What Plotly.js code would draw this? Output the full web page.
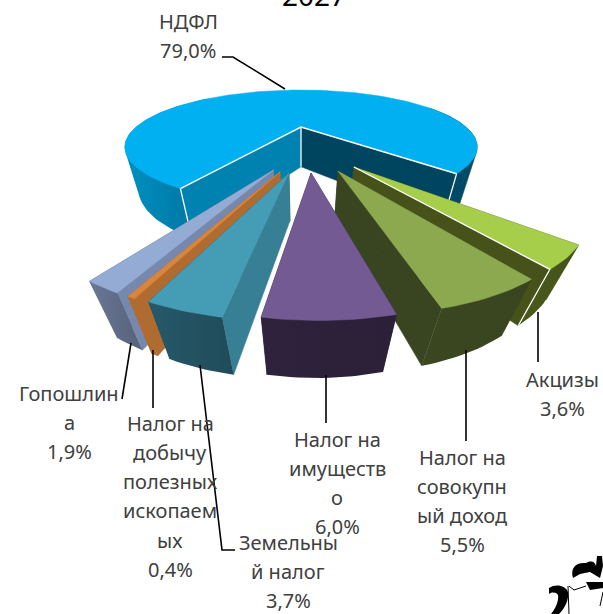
<!DOCTYPE html>
<html><head><meta charset="utf-8">
<script src="https://cdn.plot.ly/plotly-3.0.1.min.js"></script>
<style>html,body{margin:0;padding:0;background:#fff;overflow:hidden}</style>
</head><body><div id="chart" style="width:603px;height:614px"></div>
<script>
// --- data ---
const categories = ['НДФЛ','Акцизы','Налог на совокупный доход','Налог на имущество','Земельный налог','Налог на добычу полезных ископаемых','Гопошлина'];
const values = [79.0,3.6,5.5,6.0,3.7,0.4,1.9];
const labelLines = [['НДФЛ'],['Акцизы'],['Налог на','совокупн','ый доход'],['Налог на','имуществ','о'],['Земельны','й налог'],['Налог на','добычу','полезных','ископаем','ых'],['Гопошлин','а']];
const labelX = [188,562,462,337,288,170,69];
const labelY = [21,379,457,439,542,423,393];
const leaders = [[[222,57],[233,57],[285,89]],[[538,312],[538,362]],[[466,350],[466,441]],[[326,375],[326,423]],[[200,365],[222,550],[235,550]],[[153,350],[153,408]],[[131,343],[122,399]]];
// --- explode offsets and styling per slice ---
const pullU = [0,0.25,0.171,0.046,-0.055,-0.097,-0.128];
const pullV = [0,0.625,0.673,0.696,0.696,0.684,0.66];
const radius = [1,0.945,0.945,0.945,0.945,0.945,0.955];
const topColor = ['#00B0F0','#A6CE4B','#8CA94F','#735A92','#459CB5','#D8863B','#94ACD4'];
const sideA = ['#004560','#46521A','#384520','#2E223C','#377F95','#B06C30','#7788AE']; // wall at the start angle
const sideB = ['#0082B0','#46521A','#384520','#2E223C','#23505F','#B06C30','#5E6B85']; // wall at the end angle
const rimFrom = ['#0090BF','#4A5A1B','#3A4720','#2E223C','#25596A','#B06C30','#6B7896'];
const rimTo = ['#00709C','#44521A','#384520','#2C2038','#214B59','#B06C30','#566279'];
const whiteEdge = [true,true,false,false,false,false,false];
const drawOrder = [0,1,2,6,5,4,3];
// --- projection ---
const cx=301, cy=127, a=165, b=50, k=0.351, depth=42.7, m=0.073, startAngle=45.2;
function proj(u,v,z){const w=1-k*v+m*z;return [cx+a*u/w, cy+(b*v+depth*z)/w];}
const total = values.reduce((s,x)=>s+x,0);
const rad = d=>d*Math.PI/180;
const ranges = [];
(function(){let cur=startAngle;
  for(let i=1;i<values.length;i++){const e=cur-values[i]/total*360;ranges[i]=[cur,e];cur=e;}
  ranges[0]=[startAngle,cur+360];
})();
function rimPt(i,ang,z){const r=radius[i];return proj(pullU[i]+r*Math.sin(rad(ang)),pullV[i]+r*Math.cos(rad(ang)),z);}
function arc(i,from,to,z){const n=Math.max(6,Math.ceil(Math.abs(to-from)/1.5));const p=[];for(let j=0;j<=n;j++)p.push(rimPt(i,from+(to-from)*j/n,z));return p;}
// outline of the outer wall: silhouette of its top and bottom arcs
function hull(pts){
  const s=pts.slice().sort((p,q)=>p[0]-q[0]||p[1]-q[1]);
  const cross=(o,p,q)=>(p[0]-o[0])*(q[1]-o[1])-(p[1]-o[1])*(q[0]-o[0]);
  const lo=[],up=[];
  s.forEach(p=>{while(lo.length>1&&cross(lo[lo.length-2],lo[lo.length-1],p)<=0)lo.pop();lo.push(p);});
  s.slice().reverse().forEach(p=>{while(up.length>1&&cross(up[up.length-2],up[up.length-1],p)<=0)up.pop();up.push(p);});
  return lo.slice(0,-1).concat(up.slice(0,-1));
}
function rimWall(i,from,to){return hull(arc(i,from,to,0).concat(arc(i,from,to,1)));}
const traces=[];
function poly(pts,color,opt){opt=opt||{};
  const t={type:'scatter',mode:'lines',x:pts.map(p=>p[0]).concat(pts[0][0]),y:pts.map(p=>p[1]).concat(pts[0][1]),
    fill:'toself',fillcolor:color,line:{color:opt.edge||color,width:opt.edge?1.6:0.5},hoverinfo:'skip',showlegend:false};
  if(opt.grad){t.fillgradient={type:'horizontal',colorscale:[[0,opt.grad[0]],[1,opt.grad[1]]]};t.line.width=0;}
  traces.push(t);
}
function wedge(i){
  const [s,e]=ranges[i];const apT=proj(pullU[i],pullV[i],0),apB=proj(pullU[i],pullV[i],1);
  if(i===0){
    poly(rimWall(0,e,e-105),rimFrom[0],{grad:[rimFrom[0],rimTo[0]]});
    poly(rimWall(0,s,s+70),'#004A68');
  }
  poly([apT,rimPt(i,e,0),rimPt(i,e,1),apB],sideB[i]);
  poly([apT,rimPt(i,s,0),rimPt(i,s,1),apB],sideA[i]);
  if(i===0){
    poly([apT].concat(arc(0,s,e,0)),topColor[0],{});
    traces.push({type:'scatter',mode:'lines',x:[rimPt(0,s,0)[0],apT[0],rimPt(0,e,0)[0]],y:[rimPt(0,s,0)[1],apT[1],rimPt(0,e,0)[1]],line:{color:'#FFF',width:1.5},hoverinfo:'skip',showlegend:false});
    const es=[[rimPt(0,s,0),rimPt(0,s,1)],[apT,apB],[rimPt(0,e,0),rimPt(0,e,1)]];
    es.forEach(q=>traces.push({type:'scatter',mode:'lines',x:[q[0][0],q[1][0]],y:[q[0][1],q[1][1]],line:{color:'#FFF',width:1.3},hoverinfo:'skip',showlegend:false}));
    return;
  }
  poly(rimWall(i,s,e),rimFrom[i],{grad:[rimFrom[i],rimTo[i]]});
  poly([apT].concat(arc(i,s,e,0)),topColor[i],{});
  if(whiteEdge[i]){
    const c=rimPt(i,e,0),d=rimPt(i,e,1);
    traces.push({type:'scatter',mode:'lines',x:[apT[0],c[0],d[0]],y:[apT[1],c[1],d[1]],line:{color:'#FFF',width:1.3},hoverinfo:'skip',showlegend:false});
  }
}
drawOrder.forEach(wedge);
leaders.forEach(l=>traces.push({type:'scatter',mode:'lines',x:l.map(p=>p[0]),y:l.map(p=>p[1]),line:{color:'#000',width:1.6},hoverinfo:'skip',showlegend:false}));

const pct=v=>v.toFixed(1).replace('.',',')+'%';
const LINE=29.3;
const annotations=[];
categories.forEach((c,i)=>{
  const lines=labelLines[i].concat(pct(values[i]));
  lines.forEach((t,j)=>annotations.push({x:labelX[i],y:labelY[i]+j*LINE,xref:'x',yref:'y',text:t,showarrow:false,xanchor:'center',yanchor:'middle',font:{family:'"Noto Sans", sans-serif',size:20,color:'#404040'}}));
});
// corner emblem, clipped by the frame
const emblem=[
 'M573 578 C570 568 576 562 586 563 C592 560 595 562 596 566 L597 556 L602 556 L603 566 L600 578 L590 572 L580 574 Z',
 'M549 588 C556 583 566 586 568 592 C569 600 565 608 559 614 L551 614 C556 608 559 600 558 595 C556 592 552 592 549 594 Z',
 'M586 582 L603 582 L603 588 L590 590 Z'
];
const shapes=emblem.map(p=>({type:'path',path:p,fillcolor:'#000',line:{width:0},xref:'x',yref:'y'}));
shapes.push({type:'path',path:'M568 586 L569 614 M569 586 L574 590 L586 586 M603 592 L600 606',line:{color:'#000',width:1},xref:'x',yref:'y'});
Plotly.newPlot('chart',traces,{
  width:603,height:614,margin:{l:0,r:0,t:0,b:0},paper_bgcolor:'#fff',plot_bgcolor:'#fff',showlegend:false,
  title:{text:'2027',x:314/603,xanchor:'center',y:1-6/614,yanchor:'bottom',yref:'container',font:{family:'"Noto Sans", sans-serif',size:28,color:'#000'}},
  xaxis:{range:[0,603],visible:false,fixedrange:true},
  yaxis:{range:[614,0],visible:false,fixedrange:true},
  annotations,shapes
},{displayModeBar:false,staticPlot:true});
</script></body></html>
